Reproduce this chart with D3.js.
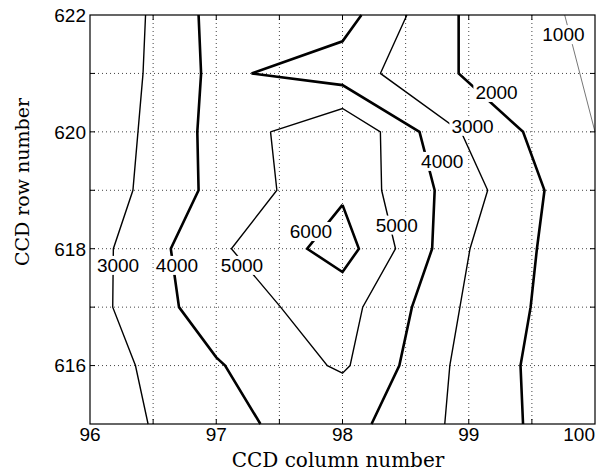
<!DOCTYPE html>
<html>
<head>
<meta charset="utf-8">
<script src="https://cdn.jsdelivr.net/npm/d3@7/dist/d3.min.js"></script>
<style>
  html, body { margin: 0; padding: 0; background: #fff; }
  svg { display: block; }
</style>
</head>
<body>
<svg id="chart" width="608" height="472"></svg>
<script>
// ---- data ----
const xTickValues = [96, 97, 98, 99, 100];
const yTickValues = [616, 618, 620, 622];
const xGridValues = [96.5, 97, 97.5, 98, 98.5, 99, 99.5];
const yGridValues = [616, 617, 618, 619, 620, 621];

const c1000 = [[99.76, 622], [100, 620]];
const c2000 = [[98.92, 622], [98.92, 621], [99.43, 620], [99.6, 619], [99.54, 618], [99.49, 617], [99.41, 616], [99.43, 615]];
const c3000L = [[96.44, 622], [96.42, 621], [96.38, 620], [96.34, 619], [96.185, 618], [96.18, 617], [96.36, 616], [96.46, 615]];
const c3000R = [[98.51, 622], [98.3, 621], [98.94, 620], [99.15, 619], [99.01, 618], [98.93, 617], [98.85, 616], [98.81, 615]];
const c4000L = [[96.86, 622], [96.88, 621], [96.85, 620], [96.86, 619], [96.64, 618], [96.705, 617], [97, 616.14], [97.07, 616], [97.35, 615]];
const c4000R = [[98.15, 622], [98, 621.55], [97.28, 621], [98, 620.8], [98.61, 620], [98.73, 619], [98.71, 618], [98.55, 617], [98.45, 616], [98.23, 615]];
const c5000 = [[97.43, 620], [98, 620.4], [98.3, 620], [98.31, 619], [98.42, 618], [98.16, 617], [98.06, 616], [98, 615.87], [97.88, 616], [97.51, 617], [97.12, 618], [97.48, 619], [97.43, 620]];
const c6000 = [[98, 618.75], [98.13, 618], [98, 617.6], [97.72, 618], [98, 618.75]];

const contourLevels = [1000, 2000, 3000, 3000, 4000, 4000, 5000, 6000];
const contourPaths = [c1000, c2000, c3000L, c3000R, c4000L, c4000R, c5000, c6000];

const labelLevels = [3000, 4000, 5000, 6000, 5000, 4000, 3000, 2000, 1000];
const labelAt = [[96.222, 617.72], [96.689, 617.72], [97.204, 617.72], [97.75, 618.3], [98.43, 618.41], [98.79, 619.5], [99.03, 620.1], [99.22, 620.68], [99.75, 621.67]];

// ---- layout ----
const svg = d3.select("#chart");
const mLeft = 90, mRight = 595, mTop = 15, mBottom = 424;
const x = d3.scaleLinear().domain([96, 100]).range([mLeft, mRight]);
const y = d3.scaleLinear().domain([615, 622]).range([mBottom, mTop]);

// grid
const grid = svg.append("g");
grid.selectAll("line.gx").data(xGridValues).join("line")
  .attr("x1", d => x(d)).attr("x2", d => x(d))
  .attr("y1", mTop).attr("y2", mBottom)
  .attr("stroke", "#444").attr("stroke-width", 1).attr("stroke-dasharray", "1,3");
grid.selectAll("line.gy").data(yGridValues).join("line")
  .attr("y1", d => y(d)).attr("y2", d => y(d))
  .attr("x1", mLeft).attr("x2", mRight)
  .attr("stroke", "#444").attr("stroke-width", 1).attr("stroke-dasharray", "1,3");

// contours
const line = d3.line().x(d => x(d[0])).y(d => y(d[1]));
const plot = svg.append("g");
contourPaths.forEach((pts, i) => {
  const lev = contourLevels[i];
  plot.append("path")
    .attr("d", line(pts))
    .attr("fill", "none")
    .attr("stroke", lev === 1000 ? "#777" : "#000")
    .attr("stroke-width", lev === 1000 ? 1 : (lev % 2000 === 0 ? 2.6 : 1.4))
    .attr("stroke-linejoin", "miter");
});

// contour labels with white background
const lab = svg.append("g");
labelAt.forEach((p, i) => {
  const g = lab.append("g");
  const t = g.append("text")
    .attr("x", x(p[0])).attr("y", y(p[1]))
    .attr("text-anchor", "middle")
    .attr("dy", "0.36em")
    .attr("font-family", "Liberation Sans, Arial, sans-serif")
    .attr("font-size", 19)
    .attr("fill", "#000")
    .text(labelLevels[i]);
  const bb = t.node().getBBox();
  g.insert("rect", "text")
    .attr("x", bb.x - 2).attr("y", bb.y + 1)
    .attr("width", bb.width + 4).attr("height", bb.height - 2)
    .attr("fill", "#fff");
});

// axes box
svg.append("rect")
  .attr("x", mLeft).attr("y", mTop)
  .attr("width", mRight - mLeft).attr("height", mBottom - mTop)
  .attr("fill", "none").attr("stroke", "#000").attr("stroke-width", 1.2);

// inward ticks on all sides
const tk = 5;
const ticks = svg.append("g").attr("stroke", "#000").attr("stroke-width", 1);
ticks.selectAll("line.xb").data(xGridValues).join("line")
  .attr("x1", d => x(d)).attr("x2", d => x(d)).attr("y1", mBottom).attr("y2", mBottom - tk);
ticks.selectAll("line.xt").data(xGridValues).join("line")
  .attr("x1", d => x(d)).attr("x2", d => x(d)).attr("y1", mTop).attr("y2", mTop + tk);
ticks.selectAll("line.yl").data(yGridValues).join("line")
  .attr("y1", d => y(d)).attr("y2", d => y(d)).attr("x1", mLeft).attr("x2", mLeft + tk);
ticks.selectAll("line.yr").data(yGridValues).join("line")
  .attr("y1", d => y(d)).attr("y2", d => y(d)).attr("x1", mRight).attr("x2", mRight - tk);

// tick labels
svg.append("g").selectAll("text").data(xTickValues).join("text")
  .attr("x", d => x(d)).attr("y", 441)
  .attr("text-anchor", (d, i) => i === xTickValues.length - 1 ? "end" : "middle")
  .attr("font-family", "Liberation Sans, Arial, sans-serif")
  .attr("font-size", 19)
  .text(d => d);
svg.append("g").selectAll("text").data(yTickValues).join("text")
  .attr("x", 86).attr("y", d => y(d))
  .attr("dy", "0.36em")
  .attr("text-anchor", "end")
  .attr("font-family", "Liberation Sans, Arial, sans-serif")
  .attr("font-size", 19)
  .text(d => d);

// axis titles
svg.append("text")
  .attr("x", 338).attr("y", 467)
  .attr("text-anchor", "middle")
  .attr("font-family", "DejaVu Serif, serif")
  .attr("font-size", 20)
  .text("CCD column number");
svg.append("text")
  .attr("transform", "translate(29,182) rotate(-90)")
  .attr("text-anchor", "middle")
  .attr("font-family", "DejaVu Serif, serif")
  .attr("font-size", 19)
  .text("CCD row number");
</script>
</body>
</html>
